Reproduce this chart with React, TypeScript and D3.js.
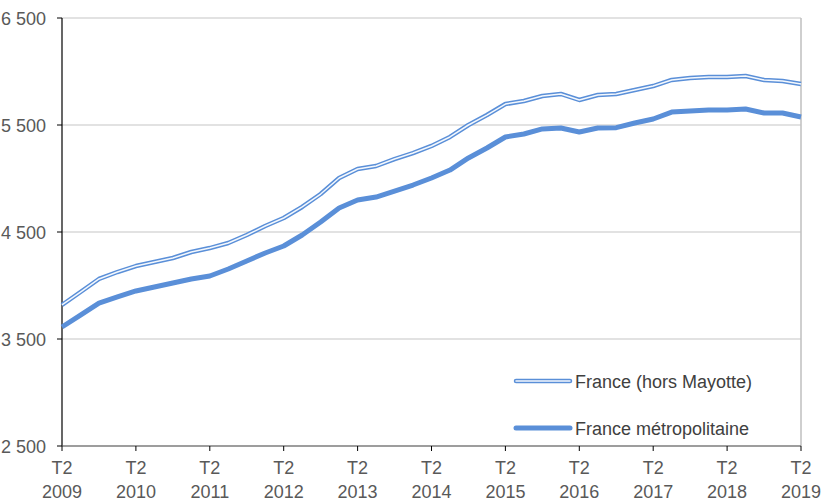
import React from "react";
import * as d3 from "d3";

const years = ["2009","2010","2011","2012","2013","2014","2015","2016","2017","2018","2019"];
const yTicks = [2500, 3500, 4500, 5500, 6500];
const franceHorsMayotte = [3818,3939,4061,4126,4182,4220,4257,4313,4350,4397,4472,4556,4631,4734,4855,5005,5089,5117,5182,5238,5304,5388,5500,5593,5696,5724,5771,5790,5734,5780,5790,5827,5864,5921,5939,5949,5949,5958,5921,5911,5883];
const franceMetro = [3612,3724,3836,3893,3949,3986,4023,4061,4089,4154,4229,4304,4369,4472,4593,4724,4799,4827,4883,4939,5005,5079,5192,5285,5388,5416,5463,5472,5435,5472,5475,5519,5556,5621,5631,5640,5640,5650,5612,5612,5575];
const seriesNames = ["France (hors Mayotte)", "France métropolitaine"];

const W = 824, H = 501;
const L = 62, R = 801, T = 18, B = 446;
const blue = "#5A8FD8";
const font = "Liberation Sans, Arial, sans-serif";

export default function App() {
  const x = d3.scaleLinear().domain([0, franceMetro.length - 1]).range([L, R]);
  const y = d3.scaleLinear().domain([2500, 6500]).range([B, T]);
  const line = d3.line<number>().x((_, i) => x(i)).y(d => y(d));
  const fmt = (v: number) => d3.format(",")(v).replace(",", " ");
  return (
    <svg width={W} height={H} style={{ position: "absolute", left: 0, top: 0, background: "#fff" }}>
      {yTicks.map(t => (
        <g key={t}>
          <line x1={L} x2={R} y1={y(t)} y2={y(t)} stroke="#d9d9d9" strokeWidth={1.5} />
          <line x1={L - 5} x2={L} y1={y(t)} y2={y(t)} stroke="#000" strokeWidth={1} />
          <text x={46} y={y(t) + 6.5} textAnchor="end" fontFamily={font} fontSize={18} fill="#595959">{fmt(t)}</text>
        </g>
      ))}
      <line x1={R} x2={R} y1={T} y2={B} stroke="#bfbfbf" strokeWidth={1.5} />
      <line x1={L} x2={L} y1={T} y2={B} stroke="#000" strokeWidth={1.2} />
      <line x1={L} x2={R} y1={B} y2={B} stroke="#595959" strokeWidth={1.2} />
      {years.map((yr, k) => (
        <g key={yr}>
          <line x1={x(k * 4)} x2={x(k * 4)} y1={B} y2={B + 5} stroke="#000" strokeWidth={1} />
          <text x={x(k * 4)} y={474} textAnchor="middle" fontFamily={font} fontSize={18} fill="#595959">T2</text>
          <text x={x(k * 4)} y={498} textAnchor="middle" fontFamily={font} fontSize={18} fill="#595959">{yr}</text>
        </g>
      ))}
      <path d={line(franceHorsMayotte) || ""} fill="none" stroke={blue} strokeWidth={4.5} strokeLinejoin="round" />
      <path d={line(franceHorsMayotte) || ""} fill="none" stroke="#f4f8fd" strokeWidth={1.5} strokeLinejoin="round" />
      <path d={line(franceMetro) || ""} fill="none" stroke={blue} strokeWidth={5} strokeLinejoin="round" />
      <line x1={516} x2={570} y1={381} y2={381} stroke={blue} strokeWidth={4.5} strokeLinecap="round" />
      <line x1={516} x2={570} y1={381} y2={381} stroke="#f4f8fd" strokeWidth={1.5} strokeLinecap="round" />
      <text x={575} y={388} fontFamily={font} fontSize={18} fill="#404040">{seriesNames[0]}</text>
      <line x1={516} x2={570} y1={428} y2={428} stroke={blue} strokeWidth={5} strokeLinecap="round" />
      <text x={575} y={434.5} fontFamily={font} fontSize={18} fill="#404040">{seriesNames[1]}</text>
    </svg>
  );
}
